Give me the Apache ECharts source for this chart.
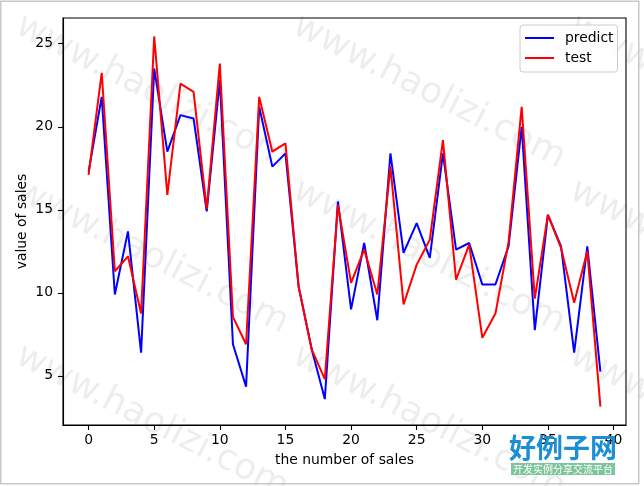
<!DOCTYPE html>
<html>
<head>
<meta charset="utf-8">
<script src="https://cdn.jsdelivr.net/npm/echarts@6/dist/echarts.min.js"></script>
<style>
html,body{margin:0;padding:0;background:#fff;}
#chart{width:644px;height:486px;}
</style>
</head>
<body>
<div id="chart"></div>
<script>
const xTicks = [0, 5, 10, 15, 20, 25, 30, 35, 40];
const yTicks = [5, 10, 15, 20, 25];
const predict = [17.3, 21.8, 9.9, 13.7, 6.4, 23.5, 18.5, 20.7, 20.5, 14.9,
  22.8, 6.9, 4.35, 21.2, 17.6, 18.4, 10.4, 6.6, 3.6, 15.5,
  9.0, 13.0, 8.35, 18.4, 12.4, 14.2, 12.1, 18.4, 12.6, 13.0,
  10.5, 10.5, 12.8, 20.0, 7.75, 14.7, 12.8, 6.4, 12.8, 5.25];
const test = [17.1, 23.25, 11.3, 12.2, 8.75, 25.44, 15.9, 22.6, 22.1, 15.05,
  23.8, 8.55, 6.9, 21.8, 18.5, 19.0, 10.4, 6.6, 4.8, 15.3,
  10.6, 12.6, 9.9, 17.6, 9.3, 11.7, 13.2, 19.2, 10.8, 12.9,
  7.3, 8.75, 13.05, 21.2, 9.65, 14.7, 12.7, 9.4, 12.5, 3.15];
const seriesNames = ['predict', 'test'];
const xLabel = 'the number of sales';
const yLabel = 'value of sales';
const watermarkText = 'www.haolizi.com';
const logoText = '好例子网';
const logoSub = '开发实例分享交流平台';

const font = '"DejaVu Sans", sans-serif';
const chart = echarts.init(document.getElementById('chart'), null, {renderer: 'canvas'});

const wmCenters = [];
[15, 292, 569].forEach(function (sx) {
  [20, 185, 350].forEach(function (sy) {
    wmCenters.push([sx + 137, sy + 72]);
  });
});
const graphics = wmCenters.map(function (c) {
  return {
    type: 'text', x: c[0], y: c[1], rotation: -0.47, z: -10, silent: true,
    style: {text: watermarkText, fontSize: 36, fontFamily: font,
      fill: 'rgba(0,0,0,0.07)', align: 'center', verticalAlign: 'middle'}
  };
});
graphics.push({
  type: 'rect', z: 100, silent: true,
  shape: {x: 0.75, y: 1.25, width: 638, height: 482.5},
  style: {fill: 'none', stroke: '#c8c8c8', lineWidth: 1.5}
});
graphics.push({
  type: 'text', x: 563, y: 448, z: 110, silent: true,
  style: {text: logoText, fontSize: 27, fontWeight: 'bold',
    fontFamily: '"Noto Sans CJK SC", sans-serif',
    fill: '#1b8fd6', align: 'center', verticalAlign: 'middle'}
});
graphics.push({
  type: 'rect', z: 110, silent: true,
  shape: {x: 511, y: 463, width: 104, height: 12},
  style: {fill: '#7cc49a'}
});
graphics.push({
  type: 'text', x: 563, y: 469, z: 111, silent: true,
  style: {text: logoSub, fontSize: 10,
    fontFamily: '"Noto Sans CJK SC", sans-serif',
    fill: '#ffffff', align: 'center', verticalAlign: 'middle'}
});

const option = {
  backgroundColor: '#ffffff',
  animation: false,
  graphic: graphics,
  grid: {left: 63, right: 18, top: 18, bottom: 61, show: true,
    borderColor: '#000', borderWidth: 1.1, backgroundColor: 'transparent'},
  legend: {
    orient: 'vertical', left: 520, top: 25,
    data: seriesNames,
    icon: 'rect', itemWidth: 29, itemHeight: 2, itemGap: 6,
    padding: [6, 4, 7, 5],
    backgroundColor: 'rgba(255,255,255,0.8)',
    borderColor: '#cccccc', borderWidth: 1, borderRadius: 3,
    textStyle: {fontSize: 13.9, fontFamily: font, color: '#000', padding: [0, 0, 0, 6]}
  },
  xAxis: {
    type: 'value', min: -1.95, max: 40.95,
    name: xLabel, nameLocation: 'middle', nameGap: 28,
    nameTextStyle: {fontSize: 13.9, fontFamily: font, color: '#000'},
    axisLine: {show: true, onZero: false, lineStyle: {color: '#000', width: 1.1}},
    axisTick: {show: true, length: 5, customValues: xTicks, lineStyle: {color: '#000', width: 1.1}},
    axisLabel: {customValues: xTicks, margin: 8, fontSize: 13.9, fontFamily: font, color: '#000'},
    splitLine: {show: false}
  },
  yAxis: {
    type: 'value', min: 2.04, max: 26.55,
    name: yLabel, nameLocation: 'middle', nameGap: 34, nameRotate: 90,
    nameMoveOverlap: false,
    nameTextStyle: {fontSize: 13.9, fontFamily: font, color: '#000'},
    axisLine: {show: true, onZero: false, lineStyle: {color: '#000', width: 1.1}},
    axisTick: {show: true, length: 5, customValues: yTicks, lineStyle: {color: '#000', width: 1.1}},
    axisLabel: {customValues: yTicks, margin: 10, fontSize: 13.9, fontFamily: font, color: '#000'},
    splitLine: {show: false}
  },
  series: [
    {name: seriesNames[0], type: 'line', showSymbol: false, symbol: 'none',
      data: predict.map(function (v, i) { return [i, v]; }),
      lineStyle: {color: '#0000ff', width: 2}, itemStyle: {color: '#0000ff'}, z: 2},
    {name: seriesNames[1], type: 'line', showSymbol: false, symbol: 'none',
      data: test.map(function (v, i) { return [i, v]; }),
      lineStyle: {color: '#ff0000', width: 2}, itemStyle: {color: '#ff0000'}, z: 3}
  ]
};
chart.setOption(option);
</script>
</body>
</html>
